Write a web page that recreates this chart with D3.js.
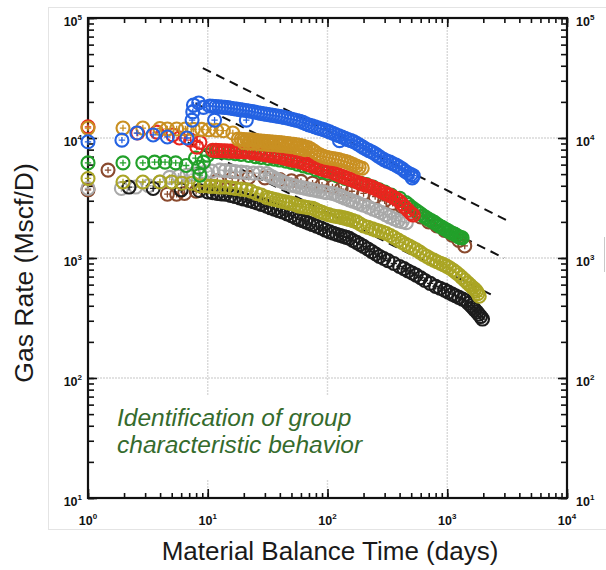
<!DOCTYPE html>
<html>
<head>
<meta charset="utf-8">
<script src="https://cdn.jsdelivr.net/npm/d3@7"></script>
<style>
  body { margin: 0; background: #fff; }
  svg { display: block; font-family: "Liberation Sans", Arial, sans-serif; }
</style>
</head>
<body>
<div id="chart"></div>
<script>
// [material balance time (days), gas rate (Mscf/D)]
const brown = [[1,3700],[1.47,5400],[4.6,3400],[5.5,3400],[6.4,3450],[8,3600],[12,4400],[16,4600],[22,4700],[30,4650],[40,4500],[50,4400],[60,4350],[75,4200],[90,4050],[110,3900],[130,3750],[160,3600],[200,3450],[250,3250],[300,3000],[350,2850],[420,2650],[500,2450],[600,2200],[700,2000],[820,1850],[950,1700],[1100,1550],[1250,1400],[1400,1260]];
const gray = [[1,3800],[1.9,3800],[2.5,3900],[3.2,4000],[4,4300],[4.8,4700],[5.7,4800],[6.7,4900],[7.6,5000],[8.6,5100],[9.6,5200],[10.8,5300],[12.6,5400],[14,5350],[15.5,5300],[17,5250],[19,5200],[21,5150],[24,5100],[27,5100],[31,5050],[33,4850],[35,4700],[37.5,4550],[40,4400],[42.5,4300],[45,4200],[50,4050],[54,3980],[58,3900],[62,3850],[66,3800],[70,3750],[75,3700],[80,3650],[85,3600],[92,3550],[98,3500],[110,3450],[118,3380],[125,3300],[132,3230],[140,3150],[152,3050],[163,2980],[175,2900],[187,2820],[200,2750],[220,2650],[240,2550],[260,2480],[280,2400],[305,2300],[330,2200],[360,2120],[390,2050],[420,2010],[455,1970]];
const black = [[2.2,3900],[3.5,3800],[6,3700],[8.5,3650],[10,3550],[11,3500],[12,3450],[13,3420],[14,3400],[15.5,3320],[17,3250],[18.5,3170],[20,3100],[22,3020],[24,2950],[26,2870],[28,2800],[31,2700],[33.5,2620],[36,2550],[39,2480],[42,2420],[46,2330],[50,2250],[54,2170],[58,2100],[62,2050],[66,2000],[70,1950],[75,1900],[81,1840],[88,1780],[96,1710],[104,1650],[112,1610],[120,1570],[128,1540],[136,1510],[144,1485],[152,1460],[163,1400],[175,1350],[187,1300],[200,1250],[217,1190],[235,1130],[253,1080],[272,1030],[295,990],[320,950],[358,900],[400,850],[435,815],[470,780],[510,750],[550,720],[600,685],[650,650],[720,615],[800,580],[870,560],[950,540],[1020,520],[1100,500],[1170,485],[1250,470],[1340,455],[1430,440],[1500,420],[1580,400],[1640,385],[1700,370],[1770,355],[1830,340],[1900,325],[1970,310]];
const olive = [[1,4600],[1.96,4300],[2.87,4300],[3.98,4300],[5,4300],[6.07,4200],[7.36,4200],[8.6,4000],[9.5,4000],[10.5,3950],[11.5,3950],[12.6,3900],[14,3900],[15.5,3850],[17,3800],[19,3750],[21,3700],[23,3600],[25.5,3450],[28,3350],[31,3200],[33,3150],[35,3100],[37.5,3050],[40,3000],[42.5,2960],[45,2920],[47.5,2880],[50,2850],[54,2780],[58,2700],[62,2680],[66,2650],[70,2620],[75,2600],[80,2520],[85,2450],[90,2400],[95,2350],[102,2300],[110,2250],[118,2220],[126,2200],[133,2170],[140,2150],[146,2120],[152,2100],[163,2050],[175,2000],[187,1920],[200,1850],[218,1800],[237,1750],[253,1710],[270,1680],[290,1640],[310,1600],[335,1540],[360,1480],[390,1410],[420,1350],[450,1300],[480,1260],[515,1210],[550,1170],[590,1120],[630,1070],[675,1030],[720,990],[770,960],[820,930],[875,905],[930,880],[985,855],[1040,830],[1110,795],[1180,760],[1250,725],[1320,690],[1400,655],[1480,620],[1550,595],[1620,570],[1690,550],[1750,530],[1800,505],[1850,480]];
const green = [[1,6200],[1.96,6200],[2.87,6200],[3.6,6300],[4.4,6300],[5.4,6200],[6.6,5900],[7.9,6800],[8.4,5700],[8.6,4900],[9.2,6300],[10,7200],[11,7800],[12,7700],[13.5,7600],[15,7500],[17,7400],[19,7300],[22,7150],[25,7000],[28,6900],[32,6750],[36,6650],[40,6550],[45,6400],[50,6250],[56,6050],[63,5850],[70,5700],[80,5450],[90,5250],[100,5100],[120,4850],[140,4600],[165,4400],[190,4200],[211,4100],[240,3900],[270,3700],[300,3550],[340,3350],[400,3150],[450,2900],[475,2780],[500,2650],[530,2550],[560,2450],[595,2350],[630,2250],[665,2170],[700,2100],[740,2040],[780,1980],[820,1910],[860,1850],[905,1800],[950,1750],[1000,1700],[1050,1650],[1100,1610],[1150,1580],[1200,1540],[1250,1500],[1290,1480],[1330,1470]];
const red = [[1,12400],[2.6,11000],[3.76,11200],[5.1,10600],[5.8,10000],[7.2,9600],[8.6,9200],[8.1,8400],[11,7900],[11.7,7880],[12.4,7860],[13.1,7840],[13.9,7820],[14.7,7800],[15.6,7780],[16.5,7760],[17.5,7740],[18.5,7720],[19.6,7700],[20.8,7670],[22,7650],[23.3,7580],[24.7,7500],[26.2,7430],[27.7,7360],[29.4,7290],[31.1,7220],[33,7150],[35,7080],[37,7040],[39.2,7000],[41.5,6900],[44,6800],[46.6,6700],[49.4,6600],[52.3,6500],[55.4,6450],[58.7,6380],[62.2,6250],[65.9,6120],[69.8,6000],[74,5880],[78.4,5760],[83,5650],[88,5550],[93,5450],[98.6,5350],[104,5280],[111,5180],[117,5050],[124,4920],[132,4800],[140,4700],[148,4600],[157,4520],[166,4420],[176,4300],[186,4200],[197,4120],[209,4050],[222,3980],[235,3900],[249,3800],[264,3700],[279,3600],[296,3500],[313,3420],[332,3330],[352,3220],[373,3120],[395,3000],[419,2820],[443,2650],[470,2500],[498,2350],[520,2280]];
const gold = [[1,12100],[1.96,12100],[2.87,12100],[3.98,12000],[4.6,11900],[5.5,11900],[6.5,11900],[7.6,11800],[8.9,11800],[10.2,11700],[11.8,11600],[13.5,11500],[16.2,11000],[20,9200],[22,9100],[24,9050],[26.5,8950],[29,8900],[32,8850],[35,8800],[38.5,8700],[42,8650],[46,8550],[50,8450],[55,8300],[60,8150],[65,8000],[18,9800],[19,9750],[20,9700],[21.2,9680],[22.4,9650],[23.7,9600],[25,9550],[26.5,9480],[28,9420],[29.6,9370],[31.3,9320],[33,9280],[35,9240],[37,9200],[39.3,9150],[41.6,9100],[44,9040],[46.6,8980],[49.3,8900],[52.2,8850],[55.3,8780],[58.5,8700],[62,8550],[65.6,8420],[69.5,8280],[73.6,8000],[78,7700],[82.5,7400],[87,7200],[92,7030],[98,6900],[104,6820],[110,6750],[117,6680],[124,6620],[131,6500],[139,6400],[147,6300],[155,6150],[164,6000],[174,5850],[184,5700],[195,5600]];
const blue = [[1,9300],[1.92,9600],[2.56,11000],[3.5,10600],[4.6,10200],[6.7,10000],[7.4,14100],[7.5,16500],[7.6,18800],[8.4,19600],[9.2,18000],[11.4,14100],[21,14100],[126,9500],[10.4,18480],[11,18400],[11.7,18300],[12.4,18200],[13.1,18100],[13.9,18000],[14.7,17900],[15.6,17700],[16.5,17550],[17.5,17400],[18.5,17250],[19.6,17100],[20.8,16950],[22,16800],[23.3,16650],[24.7,16450],[26.2,16250],[27.7,16050],[29.4,15900],[31.1,15750],[33,15600],[35,15450],[37,15300],[39.2,15150],[41.5,15000],[44,14800],[46.6,14600],[49.4,14400],[52.3,14200],[55.4,14000],[58.7,13800],[62.2,13500],[65.9,13150],[69.8,12850],[74,12650],[78.4,12400],[83,12150],[88,11950],[93,11750],[98.6,11500],[104,11250],[111,10950],[117,10700],[124,10450],[132,10200],[140,9950],[148,9700],[157,9500],[166,9300],[176,9000],[186,8700],[197,8400],[209,8100],[222,7850],[235,7650],[249,7400],[264,7100],[279,6850],[296,6600],[313,6420],[332,6300],[352,6100],[373,5950],[395,5750],[419,5550],[443,5300],[470,5100],[498,4950],[520,4850],[510,4650]];

const seriesNames = ["brown", "gray", "black", "olive", "green", "red", "gold", "blue"];
const seriesData = [brown, gray, black, olive, green, red, gold, blue];
const seriesColors = ["#8a4a2e", "#a9a9a9", "#1c1c1c", "#aaa524", "#22a02a", "#e8261e", "#c99022", "#2462e2"];

// dashed half-slope guide lines: [start t, start q, end t, end q]
const guideLines = [[9.1, 38290, 3420, 1975], [7.9, 19420, 2985, 999], [6.8, 9177, 2560, 473]];

const xDecades = [1, 10, 100, 1000, 10000];
const yDecades = [10, 100, 1000, 10000, 100000];
const xExp = ["0", "1", "2", "3", "4"];
const yExp = ["1", "2", "3", "4", "5"];

const note = ["Identification of group", "characteristic behavior"];

const W = 606, H = 570;
const svg = d3.select("#chart").append("svg").attr("width", W).attr("height", H);

// outer faint frame of the pasted figure
svg.append("rect").attr("x", 48.5).attr("y", 7.5).attr("width", 600).attr("height", 522)
  .attr("fill", "none").attr("stroke", "#e4e4e4");
svg.append("line").attr("x1", 604.5).attr("x2", 604.5).attr("y1", 237).attr("y2", 272)
  .attr("stroke", "#c8c8c8");

const x = d3.scaleLog().domain([1, 1e4]).range([88, 567]);
const y = d3.scaleLog().domain([10, 1e5]).range([498, 18]);

// grid
const grid = svg.append("g").attr("stroke", "#d9d9d9").attr("stroke-width", 1.4).attr("stroke-dasharray", "2,1");
grid.selectAll(".gx").data(xDecades.slice(1, -1)).join("line")
  .attr("x1", d => x(d)).attr("x2", d => x(d)).attr("y1", y(1e5)).attr("y2", y(10));
grid.selectAll(".gy").data(yDecades.slice(1, -1)).join("line")
  .attr("y1", d => y(d)).attr("y2", d => y(d)).attr("x1", x(1)).attr("x2", x(1e4));

// white box behind the annotation
svg.append("rect").attr("x", 110).attr("y", 396).attr("width", 275).attr("height", 84).attr("fill", "#fff");

// ticks on all four sides, pointing inward
function tickAxis(axis, tr, size, vals) {
  const g = svg.append("g").attr("transform", tr)
    .call(axis.tickValues(vals).tickSize(size).tickSizeOuter(0).tickFormat(""));
  g.select(".domain").remove();
  g.selectAll("line").attr("stroke", "#111").attr("stroke-width", 1.6);
}
const xMinor = x.ticks(), yMinor = y.ticks();
tickAxis(d3.axisBottom(x), `translate(0,${y(10)})`, -5, xMinor);
tickAxis(d3.axisBottom(x), `translate(0,${y(10)})`, -9, xDecades);
tickAxis(d3.axisTop(x), `translate(0,${y(1e5)})`, -5, xMinor);
tickAxis(d3.axisTop(x), `translate(0,${y(1e5)})`, -9, xDecades);
tickAxis(d3.axisLeft(y), `translate(${x(1)},0)`, -6, yMinor);
tickAxis(d3.axisLeft(y), `translate(${x(1)},0)`, -9, yDecades);
tickAxis(d3.axisRight(y), `translate(${x(1e4)},0)`, -6, yMinor);
tickAxis(d3.axisRight(y), `translate(${x(1e4)},0)`, -9, yDecades);

svg.append("rect").attr("x", x(1)).attr("y", y(1e5))
  .attr("width", x(1e4) - x(1)).attr("height", y(10) - y(1e5))
  .attr("fill", "none").attr("stroke", "#111").attr("stroke-width", 2.2);

// tick labels like 10^n
function powLabel(px, py, exp, anchor) {
  const t = svg.append("text").attr("x", px).attr("y", py).attr("text-anchor", anchor)
    .attr("font-weight", "bold").attr("font-size", 12.5).attr("fill", "#111");
  t.append("tspan").text("10");
  t.append("tspan").attr("dy", -6).attr("font-size", 8).text(exp);
}
xDecades.forEach((d, i) => powLabel(x(d), 525, xExp[i], "middle"));
yDecades.forEach((d, i) => {
  powLabel(82, y(d) + 8, yExp[i], "end");
  powLabel(576, y(d) + 8, yExp[i], "start");
});

// guide lines
svg.append("g").selectAll("line").data(guideLines).join("line")
  .attr("x1", d => x(d[0])).attr("y1", d => y(d[1]))
  .attr("x2", d => x(d[2])).attr("y2", d => y(d[3]))
  .attr("stroke", "#111").attr("stroke-width", 2).attr("stroke-dasharray", "9,6");

// markers: circle with a plus inside
seriesData.forEach((data, i) => {
  const g = svg.append("g").attr("class", "s-" + seriesNames[i])
    .attr("stroke", seriesColors[i]).attr("fill", "none");
  const m = g.selectAll("g").data(data).join("g")
    .attr("transform", d => `translate(${x(d[0])},${y(d[1])})`);
  m.append("circle").attr("r", 6.5).attr("stroke-width", 2.1);
  m.append("path").attr("d", "M-3.2,0H3.2M0,-3.2V3.2").attr("stroke-width", 1.3);
});

// annotation
const ann = svg.append("text").attr("x", 117).attr("y", 426)
  .attr("font-size", 24.5).attr("font-style", "italic").attr("fill", "#356b2d");
note.forEach((s, i) => ann.append("tspan").attr("x", 117).attr("dy", i ? 27 : 0).text(s));

// axis titles
svg.append("text").attr("x", 330).attr("y", 560).attr("text-anchor", "middle")
  .attr("font-size", 26).attr("fill", "#1a1a1a").text("Material Balance Time (days)");
svg.append("text").attr("transform", "translate(33,273) rotate(-90)").attr("text-anchor", "middle")
  .attr("font-size", 26.5).attr("fill", "#1a1a1a").text("Gas Rate (Mscf/D)");
</script>
</body>
</html>
